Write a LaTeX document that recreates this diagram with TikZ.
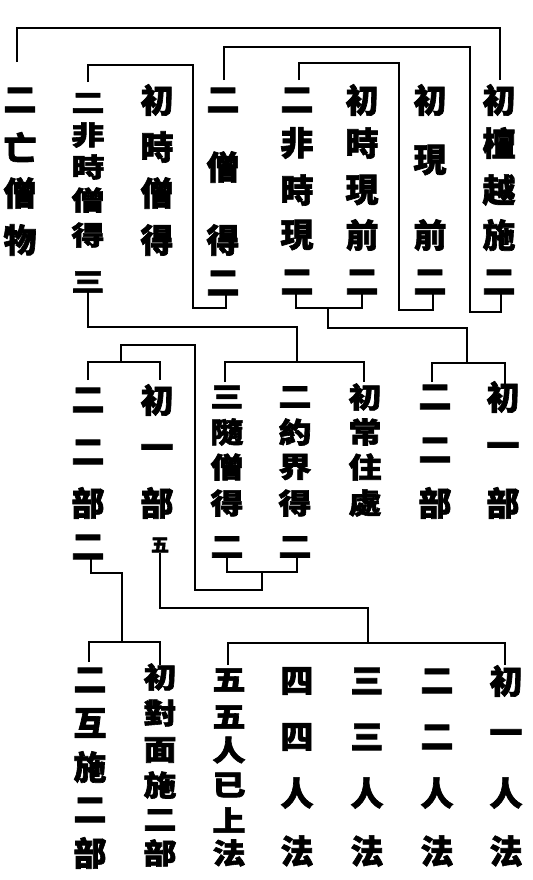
\documentclass[tikz,border=0pt]{standalone}
\usepackage{fontspec}
\newfontfamily\cjk{Noto Sans CJK TC}[BoldFeatures={FakeBold=2}]
\tikzset{
  ch/.style={inner sep=0pt, font=\cjk\bfseries\fontsize{16.5}{16.5}\selectfont},
  smallch/.style={inner sep=0pt, font=\cjk\bfseries\fontsize{9}{9}\selectfont},
  ln/.style={line width=1pt, line join=miter}
}
\newcommand\zcol[4]{%
  \foreach \yy/\cc [count=\ii] in {#4} {\node[ch] (#1-\ii) at (#2,\yy) {\scalebox{1}[#3]{\cc}};}}
\begin{document}
\begin{tikzpicture}[x=0.5pt,y=-0.5pt]
\useasboundingbox (0,0) rectangle (532,880);
\fill[white] (0,0) rectangle (532,880);
% ---- top row
\zcol{A}{20}{1}{100/二,147/亡,193/僧,240/物}
\zcol{B}{88}{0.8}{103/二,135/非,167/時,200/僧,235/得,282/三}
\zcol{C}{157}{1}{100/初,147/時,193/僧,240/得}
\zcol{D}{223}{1}{100/二,167/僧,240/得,283/二}
\zcol{E}{297}{1}{100/二,143/非,190/時,235/現,282/二}
\zcol{F}{362}{1}{100/初,143/時,190/現,235/前,282/二}
\zcol{G}{430}{1}{100/初,160/現,235/前,282/二}
\zcol{H}{499}{1}{100/初,143/檀,190/越,235/施,282/二}
% ---- middle row
\zcol{I}{88}{1}{400/二,452/二,503/部,547/二}
\zcol{J}{157}{1}{400/初,452/一,503/部}
\node[smallch] (J-5) at (160,545) {五};
\zcol{K}{227}{0.86}{397/三,432/隨,467/僧,503/得,547/二}
\zcol{L}{295}{0.86}{397/二,432/約,467/界,503/得,547/二}
\zcol{M}{365}{0.86}{397/初,432/常,467/住,503/處}
\zcol{N}{435}{1}{397/二,450/二,503/部}
\zcol{O}{503}{1}{397/初,450/一,503/部}
% ---- bottom row
\zcol{P}{90}{1}{680/二,723/互,767/施,810/二,853/部}
\zcol{Q}{160}{0.86}{677/初,713/對,750/面,785/施,820/二,853/部}
\zcol{R}{229}{0.86}{680/五,717/五,750/人,785/已,820/上,853/法}
\zcol{S}{297}{1}{681/四,737/四,793/人,851/法}
\zcol{T}{367}{1}{681/三,737/三,793/人,851/法}
\zcol{U}{437}{1}{681/二,737/二,793/人,851/法}
\zcol{V}{506}{1}{681/初,737/一,793/人,851/法}
% ---- tick end points
\coordinate (A-t) at (17,62);
\coordinate (H-t) at (500,80);
\coordinate (D-t) at (224,80);
\coordinate (H-b) at (501,290);
\coordinate (B-t) at (88,82);
\coordinate (D-b) at (226,290);
\coordinate (E-t) at (299,80);
\coordinate (G-b) at (433,290);
\coordinate (B-b) at (88,290);
\coordinate (K-t) at (225,382);
\coordinate (M-t) at (364,382);
\coordinate (E-b) at (296,290);
\coordinate (F-b) at (362,290);
\coordinate (N-t) at (432,382);
\coordinate (O-t) at (505,385);
\coordinate (K-b) at (227,555);
\coordinate (L-b) at (297,555);
\coordinate (I-t) at (88,380);
\coordinate (J-t) at (160,380);
\coordinate (I-b) at (91,555);
\coordinate (P-t) at (89,662);
\coordinate (Q-t) at (160,665);
\coordinate (J-b) at (160,553);
\coordinate (R-t) at (228,665);
\coordinate (V-t) at (505,665);
% ---- brackets
\draw[ln] (A-t) -- (A-t |- 0,28) -| (H-t);
\draw[ln] (D-t) -- (D-t |- 0,47) -| (470,312) -| (H-b);
\draw[ln] (B-t) -- (B-t |- 0,65) -| (193,308) -| (D-b);
\draw[ln] (E-t) -- (E-t |- 0,63) -| (399,310) -| (G-b);
\draw[ln] (B-b) -- (B-b |- 0,327) -| (297,362);
\draw[ln] (K-t) -- (K-t |- 0,362) -| (M-t);
\draw[ln] (E-b) -- (E-b |- 0,308) -| (F-b);
\draw[ln] (328,308) -- (328,328) -| (467,363);
\draw[ln] (N-t) -- (N-t |- 0,363) -| (O-t);
\draw[ln] (K-b) -- (K-b |- 0,572) -| (L-b);
\draw[ln] (262,572) -- (262,590) -| (195,345) -| (121,362);
\draw[ln] (I-t) -- (I-t |- 0,362) -| (J-t);
\draw[ln] (I-b) -- (I-b |- 0,573) -| (122,642);
\draw[ln] (P-t) -- (P-t |- 0,642) -| (Q-t);
\draw[ln] (J-b) -- (J-b |- 0,608) -| (368,643);
\draw[ln] (R-t) -- (R-t |- 0,643) -| (V-t);
\end{tikzpicture}
\end{document}
